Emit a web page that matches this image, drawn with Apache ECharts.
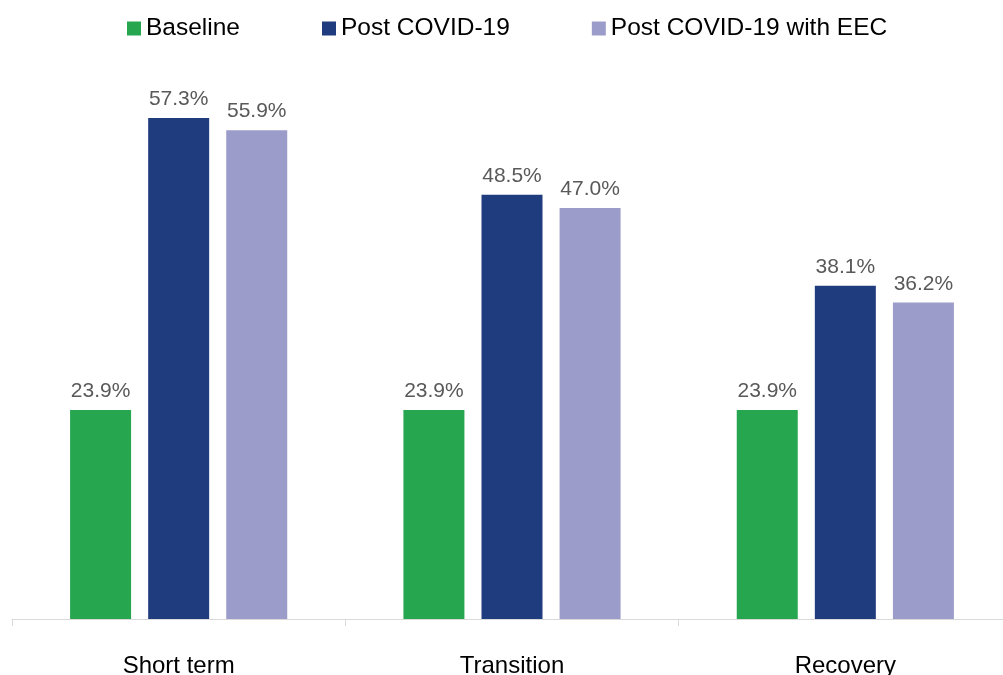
<!DOCTYPE html>
<html>
<head>
<meta charset="utf-8">
<script src="https://cdn.jsdelivr.net/npm/echarts@6/dist/echarts.min.js"></script>
<style>
  html, body { margin: 0; padding: 0; background: #fff; overflow: hidden; }
  #chart { width: 1003px; height: 675px; }
</style>
</head>
<body>
<div id="chart"></div>
<script>
// Scenario categories and share values (%)
const categories = ['Short term', 'Transition', 'Recovery'];
const seriesNames = ['Baseline', 'Post COVID-19', 'Post COVID-19 with EEC'];
const baseline = [23.9, 23.9, 23.9];
const postCovid = [57.3, 48.5, 38.1];
const postCovidEEC = [55.9, 47.0, 36.2];

const colors = ['#25a64f', '#1f3c7e', '#9c9ccb'];
const FONT = '"Liberation Sans", Arial, Helvetica, sans-serif';

const chart = echarts.init(document.getElementById('chart'), null, { renderer: 'canvas' });

function barSeries(name, data, color) {
  return {
    name: name,
    type: 'bar',
    data: data,
    barWidth: 61,
    barGap: '28%',
    itemStyle: { color: color },
    label: {
      show: true,
      position: 'top',
      distance: 8,
      color: '#595959',
      fontSize: 21,
      fontFamily: FONT,
      formatter: p => p.value.toFixed(1) + '%'
    }
  };
}

chart.setOption({
  animation: false,
  backgroundColor: '#ffffff',
  legend: {
    top: 16,
    left: 127,
    padding: 0,
    itemWidth: 14,
    itemHeight: 14,
    itemGap: 82,
    icon: 'rect',
    textStyle: { color: '#000', fontSize: 24.5, fontFamily: FONT },
    data: seriesNames
  },
  grid: {
    left: 12, right: -9, top: 94.3, bottom: 56,
    containLabel: false,
    outerBoundsMode: 'none'
  },
  xAxis: {
    type: 'category',
    data: categories,
    axisLine: { lineStyle: { color: '#d9d9d9', width: 1 } },
    axisTick: { show: true, length: 7, lineStyle: { color: '#d9d9d9' } },
    axisLabel: { color: '#000', fontSize: 24, fontFamily: FONT, margin: 35 }
  },
  yAxis: {
    type: 'value',
    min: 0,
    max: 60,
    show: false,
    splitLine: { show: false }
  },
  series: [
    barSeries(seriesNames[0], baseline, colors[0]),
    barSeries(seriesNames[1], postCovid, colors[1]),
    barSeries(seriesNames[2], postCovidEEC, colors[2])
  ]
});
</script>
</body>
</html>
